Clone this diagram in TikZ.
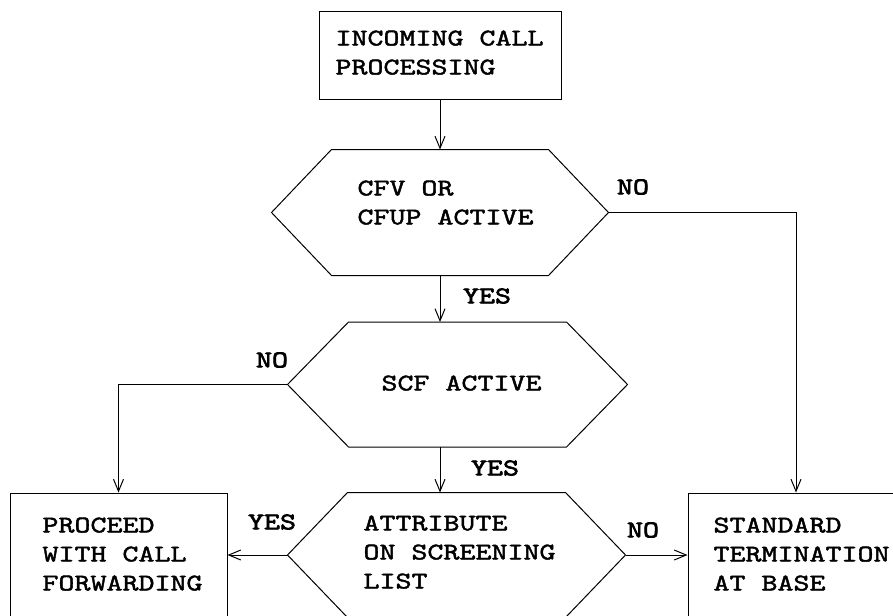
\documentclass[tikz,border=0pt]{standalone}
\usepackage{fontspec}
\usetikzlibrary{arrows.meta}
\newfontfamily\flowfont{lmmono10-regular}[Extension=.otf,FakeStretch=1.27,FakeBold=1.8]
\newfontfamily\flowbold{lmmono10-regular}[Extension=.otf,FakeStretch=1.27,FakeBold=2.8]
\tikzset{
  process/.style={draw, rectangle, inner sep=0pt},
  decision/.style={rectangle, inner sep=0pt},
  txt/.style={align=left, inner sep=0pt, anchor=north west},
  answer/.style={inner sep=0pt, font=\flowbold\fontsize{24}{29}\selectfont}
}
\begin{document}
\begin{tikzpicture}[x=1pt, y=-1pt, line width=1pt, font=\flowfont\fontsize{24}{29}\selectfont, >={Straight Barb[length=12pt,width=10pt]}]
\useasboundingbox (0,0) rectangle (893,615);
\clip (0,0) rectangle (893,615);
\node[process, minimum width=242pt, minimum height=88pt] (init) at (440,56) {};
\node[decision, minimum width=336pt, minimum height=125pt] (cfv) at (440,212.5) {};
\node[decision, minimum width=339pt, minimum height=124pt] (scf) at (457.5,384.5) {};
\node[decision, minimum width=337pt, minimum height=124pt] (attr) at (456.5,555) {};
\node[process, minimum width=217pt, minimum height=125pt] (proceed) at (118.5,555.5) {};
\node[process, minimum width=216pt, minimum height=125pt] (standard) at (796,555.5) {};
\foreach \n/\c in {cfv/60,scf/61,attr/60}
  \draw ([xshift=\c pt]\n.north west) -- ([xshift=-\c pt]\n.north east) -- (\n.east)
    -- ([xshift=-\c pt]\n.south east) -- ([xshift=\c pt]\n.south west) -- (\n.west) -- cycle;
\node[txt] (inittxt) at (335,30) {INCOMING CALL\\PROCESSING};
\node[txt] (cfvtxt) at (357,180) {CFV OR\\CFUP ACTIVE};
\node[txt] (scftxt) at (381,375) {SCF ACTIVE};
\node[txt] (attrtxt) at (363,515) {ATTRIBUTE\\ON SCREENING\\LIST};
\node[txt] (proceedtxt) at (42,517) {PROCEED\\WITH CALL\\FORWARDING};
\node[txt] (standardtxt) at (713,517) {STANDARD\\TERMINATION\\AT BASE};
\draw[->] (init.south) -- (cfv.north);
\draw[->] (cfv.south) -- (cfv.south |- scf.north);
\draw[->] (scf.south -| cfv.south) -- (attr.north -| cfv.south);
\draw[->] (cfv.east) -| (standard.north);
\draw[->] (scf.west) -| (proceed.north);
\draw[->] (attr.west) -- (attr.west -| proceed.east);
\draw[->] (attr.east) -- (attr.east -| standard.west);
\node[answer] (cfvno) at (633,187) {NO};
\node[answer] (cfvyes) at (487,296) {YES};
\node[answer] (scfno) at (272,360) {NO};
\node[answer] (scfyes) at (495,468) {YES};
\node[answer] (attryes) at (272,522) {YES};
\node[answer] (attrno) at (643,530) {NO};
\end{tikzpicture}
\end{document}
